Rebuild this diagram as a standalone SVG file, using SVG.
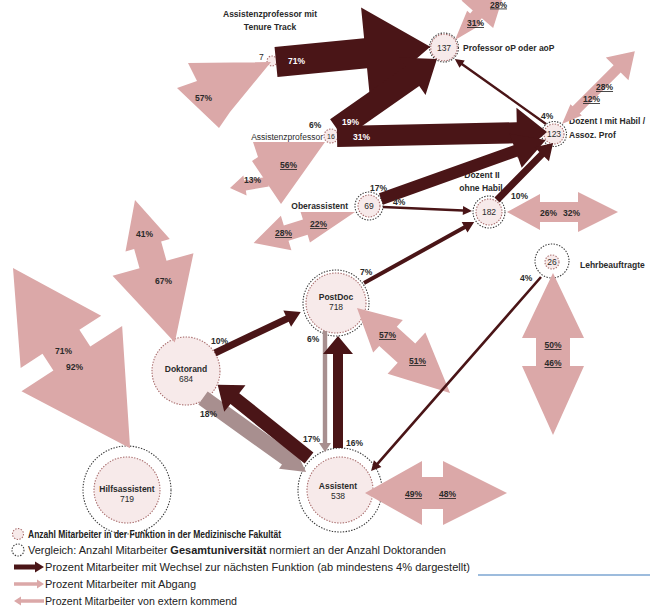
<svg xmlns="http://www.w3.org/2000/svg" width="652" height="607" viewBox="0 0 652 607">
<style>
.pk{fill:#DBA8A8}
.dk{fill:#4A1517}
.gy{fill:#A88F8F}
.t{font-family:"Liberation Sans",Arial,sans-serif;font-size:8.5px;font-weight:bold;fill:#2a2a2a}
.nm{font-weight:normal}
.m{text-anchor:middle}
.e{text-anchor:end}
.u{text-decoration:underline}
.w{fill:#ffffff}
.lg{font-family:"Liberation Sans",Arial,sans-serif;font-size:10px;fill:#222}
.c1{fill:#F7EAEA;stroke:#A86C6C;stroke-width:1.1;stroke-dasharray:1.4 1.4}
.c2{fill:#ffffff;stroke:#3a3a3a;stroke-width:1.1;stroke-dasharray:1.4 1.4}
</style>
<rect width="652" height="607" fill="#ffffff"/>

<g id="node-professor">
<circle class="c2" cx="444" cy="47.5" r="14.5"/>
<circle class="c1" cx="444" cy="47.5" r="13.3"/>
<text class="t nm m" x="444" y="50.5">137</text>
<text class="t" x="463" y="51">Professor oP oder aoP</text>
</g>
<g id="node-tenure-track">
<circle class="c1" cx="272" cy="61" r="5"/>
<text class="t nm" x="259" y="60">7</text>
<text class="t m" x="270" y="17">Assistenzprofessor  mit</text>
<text class="t m" x="270" y="30">Tenure Track</text>
</g>
<g id="node-assistenzprofessor">
<circle class="c1" cx="331" cy="136" r="7"/>
<text class="t nm m" x="331" y="139" style="font-size:7px">16</text>
<text class="t nm e" x="323" y="139.5">Assistenzprofessor</text>
</g>
<g id="node-oberassistent">
<circle class="c2" cx="369" cy="206" r="14"/>
<circle class="c1" cx="369" cy="206" r="11"/>
<text class="t nm m" x="369" y="209">69</text>
<text class="t e" x="348" y="209">Oberassistent</text>
</g>
<g id="node-dozent2">
<circle class="c2" cx="489" cy="212" r="16"/>
<circle class="c1" cx="489" cy="212" r="13"/>
<text class="t nm m" x="489" y="215">182</text>
<text class="t m" x="482" y="178">Dozent II</text>
<text class="t m" x="481" y="191">ohne Habil</text>
</g>
<g id="node-dozent1">
<circle class="c2" cx="554" cy="134" r="12.5"/>
<circle class="c1" cx="554" cy="134" r="10"/>
<text class="t nm m" x="554" y="137">123</text>
<text class="t" x="569" y="124">Dozent I mit Habil /</text>
<text class="t" x="569" y="138">Assoz. Prof</text>
</g>
<g id="node-lehrbeauftragte">
<circle class="c2" cx="552" cy="261" r="17"/>
<circle class="c1" cx="552" cy="262" r="7"/>
<text class="t nm m" x="552" y="265">26</text>
<text class="t" x="580" y="268">Lehrbeauftragte</text>
</g>
<g id="node-postdoc">
<circle class="c2" cx="336" cy="303" r="33"/>
<circle class="c1" cx="336" cy="303" r="30"/>
<text class="t m" x="336" y="300">PostDoc</text>
<text class="t nm m" x="336" y="310">718</text>
</g>
<g id="node-doktorand">
<circle class="c1" cx="186" cy="371" r="34"/>
<text class="t m" x="186" y="372">Doktorand</text>
<text class="t nm m" x="186" y="382">684</text>
</g>
<g id="node-hilfsassistent">
<circle class="c2" cx="127" cy="490" r="44"/>
<circle class="c1" cx="127" cy="490" r="33"/>
<text class="t m" x="127" y="492">Hilfsassistent</text>
<text class="t nm m" x="127" y="502">719</text>
</g>
<g id="node-assistent">
<circle class="c2" cx="340" cy="490" r="42"/>
<circle class="c1" cx="340" cy="490" r="33"/>
<text class="t m" x="338" y="489">Assistent</text>
<text class="t nm m" x="338" y="499">538</text>
</g>

<g id="connectors">
<!-- pink flows (Abgang / extern) -->
<polygon class="pk" transform="translate(455,40) rotate(-49)" points="0,0 30,-10 30,-6 34,-6 34,-21 82,0 34,21 34,6 30,6 30,10"/>
<polygon class="pk" points="271,62 188,63 197,81 177,88 219,128 230,112"/>
<polygon class="pk" points="325,142 253,142 258,157 252,161 281,204"/>
<polygon class="pk" points="230,188 243.4,175.6 244.2,180.6 267.2,176.8 268.8,186.6 245.8,190.4 246.6,195.4"/>
<polygon class="pk" transform="translate(355,212) rotate(163)" points="0,0 52,-16 52,-8 72,-8 72,-18 106,0 72,18 72,8 52,8 52,16"/>
<polygon class="pk" transform="translate(562,124) rotate(-45)" points="0,0 20,-8 20,-5 78,-5 78,-16 103,0 78,16 78,5 20,5 20,8"/>
<polygon class="pk" transform="translate(507,212)" points="0,0 33,-18 33,-10 71,-10 71,-20 111,0 71,20 71,10 33,10 33,18"/>
<polygon class="pk" transform="translate(553,273) rotate(90)" points="0,0 65,-31 65,-17 93,-17 93,-31 162,0 93,31 93,17 65,17 65,31"/>
<polygon class="pk" transform="translate(357,308) rotate(42.4)" points="0,0 42,-22 42,-13 67,-13 67,-28 126,0 67,28 67,13 42,13 42,22"/>
<polygon class="pk" transform="translate(365,493)" points="0,0 57,-32 57,-16 78,-16 78,-32 142,0 78,32 78,16 57,16 57,32"/>
<polygon class="pk" transform="translate(135,200) rotate(74.4)" points="0,0 47,-23 47,-14 67,-14 67,-42 148,0 67,42 67,14 47,14 47,23"/>
<polygon class="pk" transform="translate(13,268) rotate(57)" points="0,0 88,-48 88,-22 108,-22 108,-60 215,0 108,60 108,22 88,22 88,48"/>

<!-- transitions -->
<polygon class="dk" transform="translate(276,62) rotate(-5.6)" points="0,-15 90,-15 90,-46 155,0 90,46 90,15 0,15"/>
<polygon class="dk" transform="translate(337,129) rotate(-35)" points="0,-12 92,-12 92,-23 122,0 92,23 92,12 0,12"/>
<polygon class="dk" transform="translate(337,136.5) rotate(-1.2)" points="0,-10.5 180,-10.5 180,-25 210,0 180,25 180,10.5 0,10.5"/>
<polygon class="dk" transform="translate(381,199) rotate(-19.7)" points="0,-6 143,-6 143,-18 175,0 143,18 143,6 0,6"/>
<polygon class="dk" transform="translate(497,200) rotate(-45.5)" points="0,-3.5 64,-3.5 64,-10 80,0 64,10 64,3.5 0,3.5"/>
<polygon class="dk" transform="translate(546,124) rotate(-144.5)" points="0,-1.2 103,-1.2 103,-4.5 112,0 103,4.5 103,1.2 0,1.2"/>
<polygon class="dk" transform="translate(383,207) rotate(2.5)" points="0,-1.2 80,-1.2 80,-4.5 89,0 80,4.5 80,1.2 0,1.2"/>
<polygon class="dk" transform="translate(364,283) rotate(-29)" points="0,-2 115,-2 115,-6 126,0 115,6 115,2 0,2"/>
<polygon class="dk" transform="translate(215,353) rotate(-25.5)" points="0,-3.5 80,-3.5 80,-9 95,0 80,9 80,3.5 0,3.5"/>
<polygon class="gy" transform="translate(325,331) rotate(90)" points="0,-2.2 112,-2.2 112,-6 121,0 112,6 112,2.2 0,2.2"/>
<polygon class="dk" transform="translate(338,448) rotate(-90)" points="0,-5 94,-5 94,-15 112,0 94,15 94,5 0,5"/>
<polygon class="gy" transform="translate(203,398) rotate(35.7)" points="0,-8 103,-8 103,-13 127,0 103,13 103,8 0,8"/>
<polygon class="dk" transform="translate(309,458) rotate(-141.3)" points="0,-7 95,-7 95,-17 117,0 95,17 95,7 0,7"/>
<polygon class="dk" transform="translate(541,277) rotate(131.2)" points="0,-1.3 248,-1.3 248,-5 258,0 248,5 248,1.3 0,1.3"/>

<!-- labels -->
<text class="t w" x="288" y="64">71%</text>
<text class="t" x="195" y="101">57%</text>
<text class="t" x="309" y="128">6%</text>
<text class="t w" x="342" y="125">19%</text>
<text class="t w" x="353" y="140">31%</text>
<text class="t u" x="280" y="168">56%</text>
<text class="t" x="244" y="183">13%</text>
<text class="t u" x="467" y="26">31%</text>
<text class="t u" x="490" y="7.5">28%</text>
<text class="t u" x="596" y="90">28%</text>
<text class="t u" x="583" y="102">12%</text>
<text class="t" x="541" y="119">4%</text>
<text class="t" x="511" y="199">10%</text>
<text class="t" x="540" y="216">26%</text>
<text class="t" x="563" y="216">32%</text>
<text class="t" x="370" y="191">17%</text>
<text class="t" x="393" y="205">4%</text>
<text class="t u" x="310" y="227">22%</text>
<text class="t u" x="275" y="236">28%</text>
<text class="t" x="360" y="275">7%</text>
<text class="t" x="520" y="281">4%</text>
<text class="t u m" x="553" y="348">50%</text>
<text class="t u m" x="553" y="366">46%</text>
<text class="t" x="136" y="237">41%</text>
<text class="t" x="155" y="284">67%</text>
<text class="t" x="55" y="354">71%</text>
<text class="t" x="66" y="370">92%</text>
<text class="t" x="211" y="344">10%</text>
<text class="t" x="200" y="417">18%</text>
<text class="t" x="307" y="342">6%</text>
<text class="t u" x="379" y="338">57%</text>
<text class="t u" x="409" y="364">51%</text>
<text class="t" x="303" y="442">17%</text>
<text class="t" x="346" y="446">16%</text>
<text class="t u" x="405" y="497">49%</text>
<text class="t u" x="439" y="497">48%</text>
</g>

<g id="legend">
<circle class="c1" cx="18" cy="534" r="5.5"/>
<text class="lg" x="28" y="537.5" font-weight="bold" textLength="253" lengthAdjust="spacingAndGlyphs">Anzahl Mitarbeiter in der Funktion in der Medizinische Fakultät</text>
<circle class="c2" cx="18" cy="550" r="6"/>
<text class="lg" x="28" y="553.5" textLength="418" lengthAdjust="spacingAndGlyphs">Vergleich: Anzahl Mitarbeiter <tspan font-weight="bold">Gesamtuniversität</tspan> normiert an der Anzahl Doktoranden</text>
<polygon class="dk" points="14,564.5 35,564.5 35,561.5 44,567 35,572.5 35,569.5 14,569.5"/>
<text class="lg" x="45" y="571" textLength="425" lengthAdjust="spacingAndGlyphs">Prozent Mitarbeiter mit Wechsel zur nächsten Funktion (ab mindestens 4% dargestellt)</text>
<line x1="478" y1="575" x2="650" y2="575" stroke="#9DBCDD" stroke-width="2"/>
<polygon class="pk" points="14,582.3 37,582.3 37,579.5 44,584 37,588.5 37,585.7 14,585.7"/>
<text class="lg" x="45" y="588" textLength="151" lengthAdjust="spacingAndGlyphs">Prozent Mitarbeiter mit Abgang</text>
<polygon class="pk" points="14,601 21,596.5 21,599.3 44,599.3 44,602.7 21,602.7 21,605.5"/>
<text class="lg" x="45" y="604.5" textLength="192" lengthAdjust="spacingAndGlyphs">Prozent Mitarbeiter von extern kommend</text>
</g>
</svg>
